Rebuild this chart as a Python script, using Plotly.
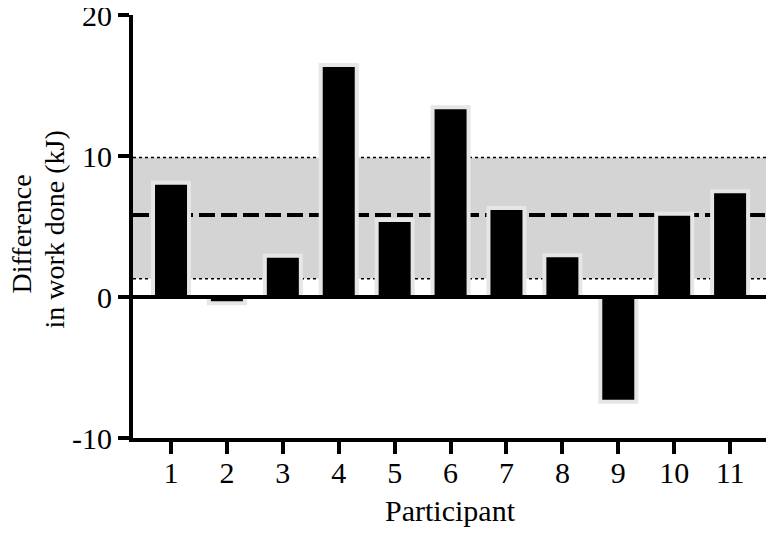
import plotly.graph_objects as go

participants = [1, 2, 3, 4, 5, 6, 7, 8, 9, 10, 11]
differences = [8.1, -0.45, 2.92, 16.45, 5.46, 13.45, 6.31, 2.97, -7.43, 5.9, 7.5]
mean_diff = 5.81
lower_loa = 1.3
upper_loa = 9.9
y_ticks = [-10, 0, 10, 20]
y_title_lines = ["Difference", "in work done (kJ)"]

FONT = "Liberation Serif"

fig = go.Figure()
fig.add_trace(go.Bar(
    x=participants, y=differences, width=0.644,
    marker=dict(color="black", line=dict(color="#e6e6e6", width=4)),
    hoverinfo="skip",
))

# band of limits of agreement
fig.add_shape(type="rect", xref="paper", yref="y", x0=0, x1=1, y0=lower_loa, y1=upper_loa,
              fillcolor="#d4d4d4", line=dict(width=0), layer="below")
for yv in (lower_loa, upper_loa):
    fig.add_shape(type="line", xref="paper", yref="y", x0=0, x1=1, y0=yv, y1=yv,
                  line=dict(color="black", width=1.5, dash="dot"), layer="below")
fig.add_shape(type="line", xref="paper", yref="y", x0=0, x1=1, y0=mean_diff, y1=mean_diff,
              line=dict(color="black", width=4, dash="16px,6px"), layer="below")
# zero line
fig.add_shape(type="line", xref="paper", yref="y", x0=0, x1=1, y0=0, y1=0,
              line=dict(color="black", width=4), layer="above")

annotations = [
    dict(
        text=y_title_lines[0], textangle=-90,
        xref="paper", yref="paper", x=0, y=0.5, xanchor="center", yanchor="middle",
        xshift=-112, yshift=-8, showarrow=False, borderpad=0,
        font=dict(family=FONT, size=28, color="black"),
    ),
    dict(
        text=y_title_lines[1], textangle=-90,
        xref="paper", yref="paper", x=0, y=0.5, xanchor="center", yanchor="middle",
        xshift=-79, yshift=-3, showarrow=False, borderpad=0,
        font=dict(family=FONT, size=28, color="black"),
    ),
    dict(
        text="Participant",
        xref="paper", yref="paper", x=0.5, y=0, xanchor="center", yanchor="middle",
        yshift=-72, showarrow=False,
        font=dict(family=FONT, size=30, color="black"),
    ),
]

fig.update_layout(
    width=766, height=528,
    margin=dict(l=125, r=7, t=7, b=98),
    plot_bgcolor="white", paper_bgcolor="white",
    showlegend=False,
    font=dict(family=FONT, size=30, color="black"),
    xaxis=dict(
        range=[0.32, 11.66], tickmode="array", tickvals=participants,
        ticktext=[str(p) for p in participants],
        showline=True, linecolor="black", linewidth=4,
        ticks="outside", ticklen=12, tickwidth=4, tickcolor="black",
        showgrid=False, zeroline=False, automargin=False,
        tickfont=dict(family=FONT, size=30), ticklabelstandoff=-7,
        ticklabeloverflow="allow",
    ),
    yaxis=dict(
        range=[-10, 20.001], tickmode="array", tickvals=y_ticks,
        ticktext=[str(t) for t in y_ticks],
        showline=True, linecolor="black", linewidth=4,
        ticks="outside", ticklen=11, tickwidth=4, tickcolor="black",
        showgrid=False, zeroline=False, automargin=False,
        tickfont=dict(family=FONT, size=30), ticklabeloverflow="allow",
    ),
    annotations=annotations,
)

fig.write_html("out.html")
